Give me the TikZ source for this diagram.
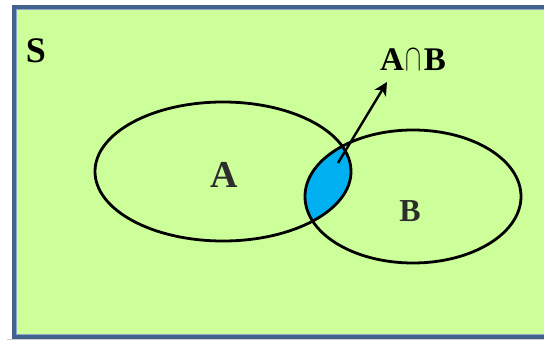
\documentclass[tikz,border=0pt]{standalone}
\usepackage{fontspec}
\setmainfont{Liberation Serif}
\usetikzlibrary{arrows.meta,shapes.geometric}
\definecolor{bgreen}{RGB}{204,255,153}
\definecolor{lensblue}{RGB}{0,176,240}
\definecolor{frameblue}{RGB}{66,98,142}
\definecolor{framelight}{RGB}{140,165,200}
\definecolor{labelgray}{RGB}{45,45,45}
\begin{document}
\begin{tikzpicture}[x=1pt,y=-1pt,
  setshape/.style={ellipse, draw=black, line width=2.8pt, inner sep=0pt, fill=none},
  lbl/.style={inner sep=0pt, text=labelgray, font=\bfseries},
  pointer/.style={line width=2.4pt, draw=black, -{Stealth[length=13pt,width=13pt,inset=3.5pt]}}]
\useasboundingbox (0,0) rectangle (544,340);
\fill[white] (0,0) rectangle (544,340);
\draw[black!20, line width=1.5pt] (7,339.3) -- (544,339.3);
\fill[bgreen] (14,7) rectangle (552,337);
\draw[frameblue, line width=3.2pt] (14,7) rectangle (552,337);
\draw[framelight, line width=0.8pt] (16.4,9.4) rectangle (549,334.6);
% intersection lens
\begin{scope}
  \clip (223,171.5) ellipse [x radius=128, y radius=69.5];
  \fill[lensblue] (413,196.5) ellipse [x radius=108, y radius=66.5];
\end{scope}
\node[setshape, minimum width=256pt, minimum height=139pt] (A) at (223,171.5) {};
\node[setshape, minimum width=216pt, minimum height=133pt] (B) at (413,196.5) {};
\node[lbl, font=\bfseries\fontsize{38}{40}\selectfont] (Alab) at (224,175) {A};
\node[lbl, font=\bfseries\fontsize{32}{34}\selectfont] (Blab) at (410,211) {B};
\node[lbl, font=\bfseries\fontsize{36}{38}\selectfont, text=black] (S) at (36,51) {S};
\node[lbl, font=\bfseries\fontsize{33}{36}\selectfont, text=black] (AB) at (413,60)
  {A\kern2pt\resizebox{16pt}{21pt}{$\cap$}\kern2pt B};
\coordinate (tail) at (338,163);
\coordinate (tip) at (387,82);
\draw[pointer] (tail) -- (tip);
\end{tikzpicture}
\end{document}
